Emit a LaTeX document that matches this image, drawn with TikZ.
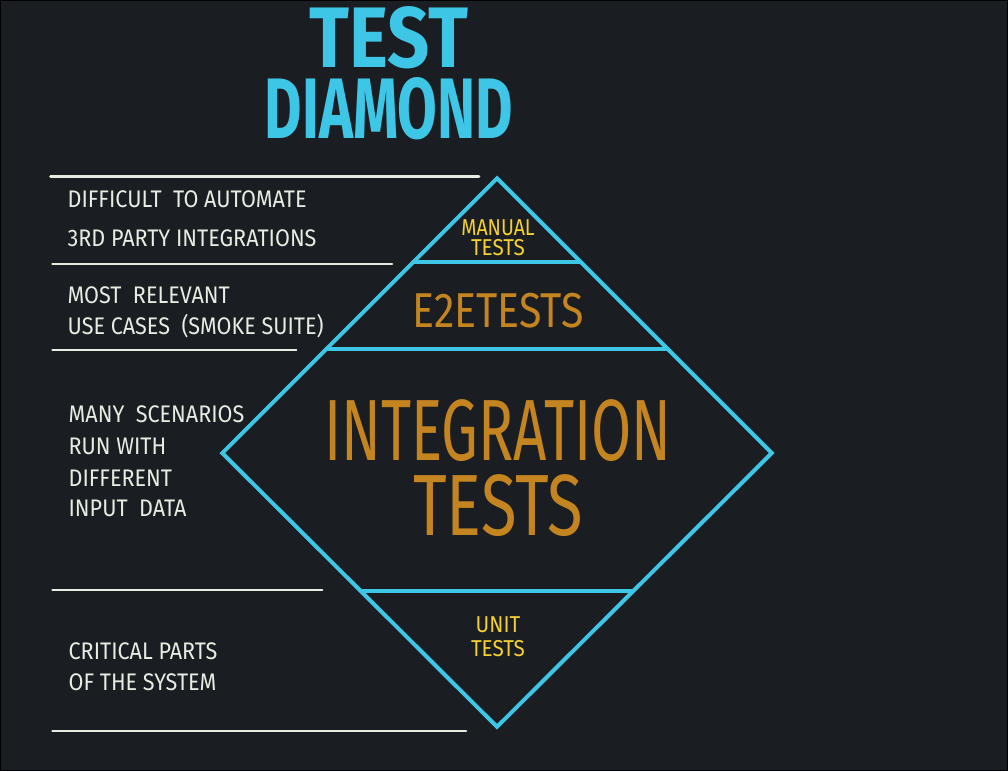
\documentclass[tikz,border=0pt]{standalone}
\usepackage{fontspec}
\setmainfont{Fira Sans}
\usetikzlibrary{positioning,calc}
\definecolor{boardbg}{RGB}{26,29,33}
\definecolor{diamondcyan}{RGB}{62,198,230}
\definecolor{chalkwhite}{RGB}{232,237,228}
\definecolor{labelyellow}{RGB}{245,208,50}
\definecolor{labelorange}{RGB}{226,150,32}
\tikzset{
    % Line styles
    chalk line/.style={
        draw=chalkwhite,
        line width=2.5pt,
        line cap=round
    },
    diamond line/.style={
        draw=diamondcyan,
        line width=4pt,
        line cap=round
    },
    % Text styles (multi-line labels sit on the baseline of their last line)
    title text/.style={
        text=diamondcyan,
        inner sep=0pt,
        anchor=base,
        align=center,
        font=\fontsize{86}{71}\selectfont\bfseries
    },
    note text/.style={
        text=chalkwhite,
        inner sep=0pt,
        anchor=base west,
        xscale=0.9,
        font=\fontsize{24}{24}\selectfont
    },
    small label/.style={
        text=labelyellow,
        inner sep=0pt,
        anchor=base,
        align=center,
        font=\fontsize{23}{20}\selectfont
    },
    big label/.style={
        text=labelorange!85!boardbg,
        inner sep=0pt,
        anchor=base,
        align=center,
        font=\fontsize{87}{76}\selectfont
    }
}

\begin{document}
\begin{tikzpicture}[x=1pt, y=-1pt]

    % board
    \fill[boardbg, draw=black, line width=1pt] (0,0) rectangle (1008,771);
    \useasboundingbox (0,0) rectangle (1008,771);

    % title
    \node[title text] (title) at (389,138)
        {\scalebox{0.86}[1]{TEST}\\\scalebox{0.67}[1]{DIAMOND}};

    % diamond corners
    \coordinate (dtop) at (497,178);
    \coordinate (dleft) at (222,453);
    \coordinate (dright) at (772,453);
    \coordinate (dbot) at (497,727);

    \draw[diamond line, line join=miter] (dtop) -- (dright) -- (dbot) -- (dleft) -- cycle;
    \draw[diamond line] (413,262) -- (581,262);
    \draw[diamond line] (326,349) -- (668,349);
    \draw[diamond line] (361,591) -- (633,591);

    % separators on the left
    \draw[chalk line] (50,176) -- (479,176);
    \draw[chalk line] (52,264) -- (392,264);
    \draw[chalk line] (52,350) -- (296,350);
    \draw[chalk line] (52,590) -- (322,590);
    \draw[chalk line] (52,731) -- (466,731);

    % notes
    \node[note text] (auto1) at (67,207) {DIFFICULT\ \ TO AUTOMATE};
    \node[note text] (auto2) at (67,246) {3RD PARTY INTEGRATIONS};
    \node[note text] (smoke1) at (67,303) {MOST\ \ RELEVANT};
    \node[note text] (smoke2) at (67,334) {USE CASES\ \ (SMOKE SUITE)};
    \node[note text] (data1) at (68,422) {MANY\ \ SCENARIOS};
    \node[note text] (data2) at (68,454) {RUN WITH};
    \node[note text] (data3) at (68,486) {DIFFERENT};
    \node[note text] (data4) at (68,517) {INPUT\ \ DATA};
    \node[note text] (core1) at (68,660) {CRITICAL PARTS};
    \node[note text] (core2) at (68,691) {OF THE SYSTEM};

    % levels
    \node[small label] (manual) at (498,255)
        {\scalebox{0.85}[1]{MANUAL}\\\scalebox{0.9}[1]{TESTS}};
    \node[big label, font=\fontsize{49}{49}\selectfont, xscale=0.84] (e2e) at (498,327) {E2ETESTS};
    \node[big label] (integ) at (498,536)
        {\scalebox{0.67}[1]{INTEGRATION}\\\scalebox{0.75}[1]{TESTS}};
    \node[small label, font=\fontsize{23}{24}\selectfont] (unit) at (498,657)
        {\scalebox{0.9}[1]{UNIT}\\\scalebox{0.9}[1]{TESTS}};

\end{tikzpicture}
\end{document}
